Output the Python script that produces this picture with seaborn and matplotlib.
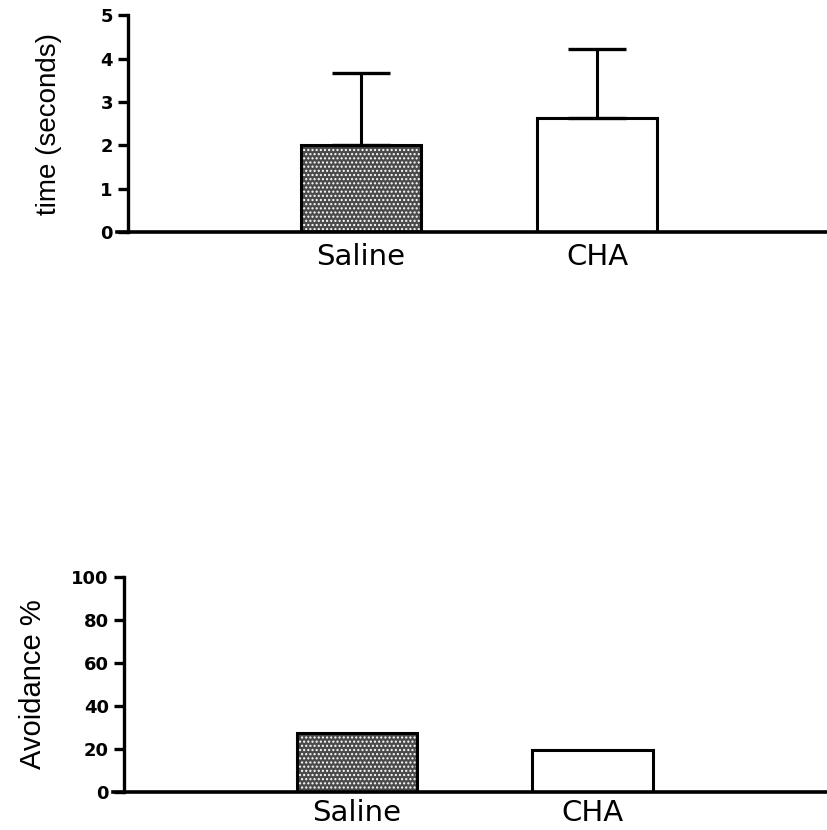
import numpy as np
import pandas as pd
import matplotlib
matplotlib.use('Agg')
import matplotlib.pyplot as plt
import seaborn as sns

# Dados
grupos = ['Saline', 'CHA']
tempo_media = [2.0, 2.64]
tempo_erro = [1.67, 1.58]
evitacao = [27.4, 19.6]
cores = {'Saline': '#4a4a4a', 'CHA': 'white'}
hachuras = ['....', '']

sns.set_style('ticks')
plt.rcParams['font.family'] = ['DejaVu Sans']
plt.rcParams['hatch.linewidth'] = 1.0
for chave in ['text.color', 'axes.labelcolor', 'xtick.color', 'ytick.color', 'axes.edgecolor']:
    plt.rcParams[chave] = 'black'

fig = plt.figure(figsize=(8.28, 8.30), dpi=100)
ax1 = fig.add_axes([117 / 828, 1 - 232 / 830, 711 / 828, 216.7 / 830])
ax2 = fig.add_axes([113 / 828, 38 / 830, 715 / 828, 215 / 830])


def barras(ax, valores):
    df = pd.DataFrame({'grupo': grupos, 'valor': valores})
    # preenchimento (com hachura branca)
    sns.barplot(data=df, x='grupo', y='valor', hue='grupo', palette=cores,
                width=0.51, edgecolor='white', linewidth=0, errorbar=None,
                legend=False, ax=ax)
    for p, h in zip(ax.patches, hachuras):
        p.set_hatch(h)
    # contorno preto
    sns.barplot(data=df, x='grupo', y='valor', color='black', fill=False,
                width=0.51, linewidth=2.2, errorbar=None, ax=ax)


# Painel superior: tempo
barras(ax1, tempo_media)
ax1.errorbar(x=[0, 1], y=tempo_media, yerr=[[0, 0], tempo_erro], fmt='none',
             ecolor='black', elinewidth=2.2, capsize=21, capthick=2.4, zorder=5)
ax1.set_ylim(0, 5)
ax1.set_yticks([0, 1, 2, 3, 4, 5])
ax1.set_xlim(-1.034, 1.979)
ax1.spines['left'].set_position(('data', -0.987))
ax1.set_ylabel('time (seconds)', family='Liberation Sans', fontsize=20)
ax1.yaxis.set_label_coords(-0.077, 0.5)

# Painel inferior: evitação
barras(ax2, evitacao)
ax2.set_ylim(0, 100)
ax2.set_yticks([0, 20, 40, 60, 80, 100])
ax2.set_xlim(-1.036, 2.0)
ax2.spines['left'].set_position(('data', -0.989))
ax2.set_ylabel('Avoidance %', family='Liberation Sans', fontsize=21)
ax2.yaxis.set_label_coords(-0.092, 0.5)

for ax, pad in [(ax1, 8), (ax2, 5)]:
    sns.despine(ax=ax)
    ax.spines['left'].set_linewidth(2.4)
    ax.spines['bottom'].set_linewidth(2.6)
    ax.set_xlabel('')
    ax.tick_params(axis='x', length=0, labelsize=21, pad=pad)
    ax.tick_params(axis='y', length=7, width=2.4, labelsize=13, pad=4)
    for t in ax.get_yticklabels():
        t.set_fontweight('bold')

plt.savefig('out.png', dpi=100)
